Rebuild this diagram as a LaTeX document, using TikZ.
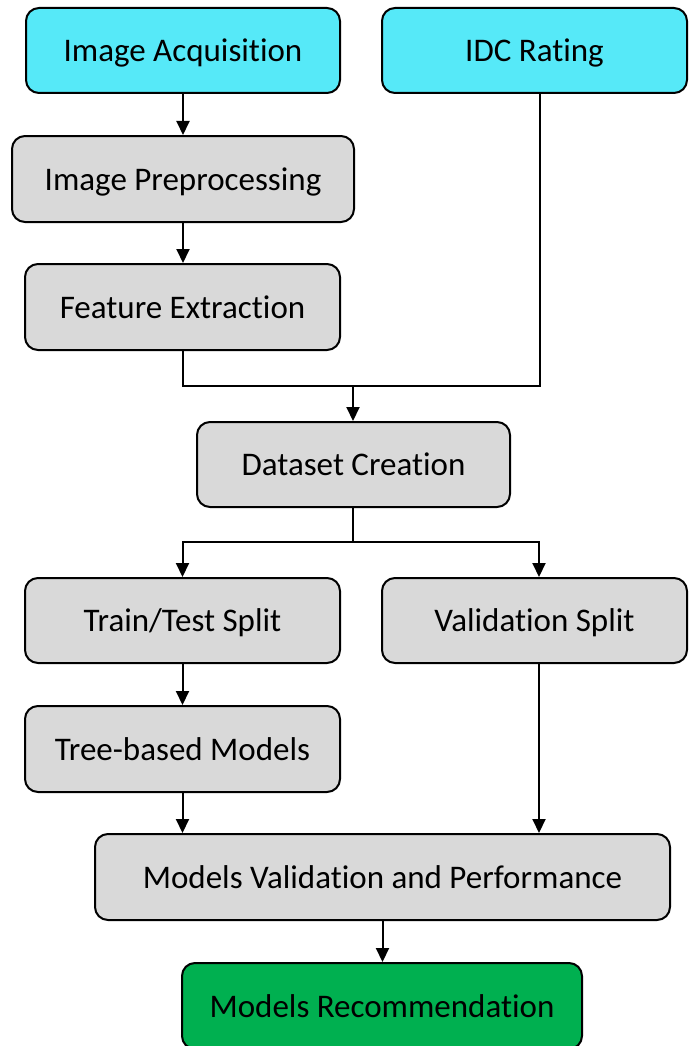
\documentclass[tikz,border=0pt]{standalone}
\usepackage{fontspec}
\setmainfont{Carlito}[Ligatures=NoCommon]
\usetikzlibrary{arrows.meta,calc}
\definecolor{cyanbox}{HTML}{56E9F8}
\definecolor{graybox}{HTML}{D9D9D9}
\definecolor{greenbox}{HTML}{00B050}
\tikzset{
  box/.style={draw=black, line width=2pt, rounded corners=13pt, fill=graybox,
    inner sep=0pt, font=\fontsize{33}{39}\selectfont, text=black, text depth=0pt},
  conn/.style={line width=2pt, draw=black},
  arr/.style={conn, -{Triangle[length=14pt,width=13pt]}},
}
\begin{document}
\begin{tikzpicture}[x=1pt,y=-1pt]
\useasboundingbox (0,0) rectangle (688,1046);
\node[box, fill=cyanbox, minimum width=314pt, minimum height=85pt] (ia) at (183,50.5) {Image Acquisition};
\node[box, fill=cyanbox, minimum width=305pt, minimum height=85pt] (idc) at (534.5,50.5) {IDC Rating};
\node[box, minimum width=342pt, minimum height=86pt] (ip) at (183,179) {Image Preprocessing};
\node[box, minimum width=315pt, minimum height=86pt] (fe) at (182.5,307) {Feature Extraction};
\node[box, minimum width=313pt, minimum height=85pt] (dc) at (353.5,464.5) {Dataset Creation};
\node[box, minimum width=315pt, minimum height=85pt] (tt) at (182.5,620.5) {Train/Test Split};
\node[box, minimum width=305pt, minimum height=85pt] (vs) at (534.5,620.5) {Validation Split};
\node[box, minimum width=315pt, minimum height=86pt] (tb) at (182.5,749) {Tree-based Models};
\node[box, minimum width=575pt, minimum height=86pt] (mvp) at (382.5,877) {Models Validation and Performance};
\node[box, fill=greenbox, minimum width=400pt, minimum height=86pt] (mr) at (382,1006) {Models Recommendation};

\coordinate (j1) at (353,386);
\coordinate (j2) at (353,542);

\draw[arr] (ia.south) -- (ip.north);
\draw[arr] (ip.south) -- (ip.south |- fe.north);
\draw[conn] (fe.south) |- (j1) -| ([xshift=5.5pt]idc.south);
\draw[arr] (j1) -- (j1 |- dc.north);
\draw[conn] (j1 |- dc.south) -- (j2);
\draw[arr] (j2) -| (tt.north);
\draw[arr] (j2) -| ([xshift=4.5pt]vs.north);
\draw[arr] (tt.south) -- (tb.north);
\draw[arr] (tb.south) -- (tb.south |- mvp.north);
\draw[arr] ([xshift=4.5pt]vs.south) -- ([xshift=4.5pt]vs.south |- mvp.north);
\draw[arr] (mvp.south) -- (mvp.south |- mr.north);
\end{tikzpicture}
\end{document}
